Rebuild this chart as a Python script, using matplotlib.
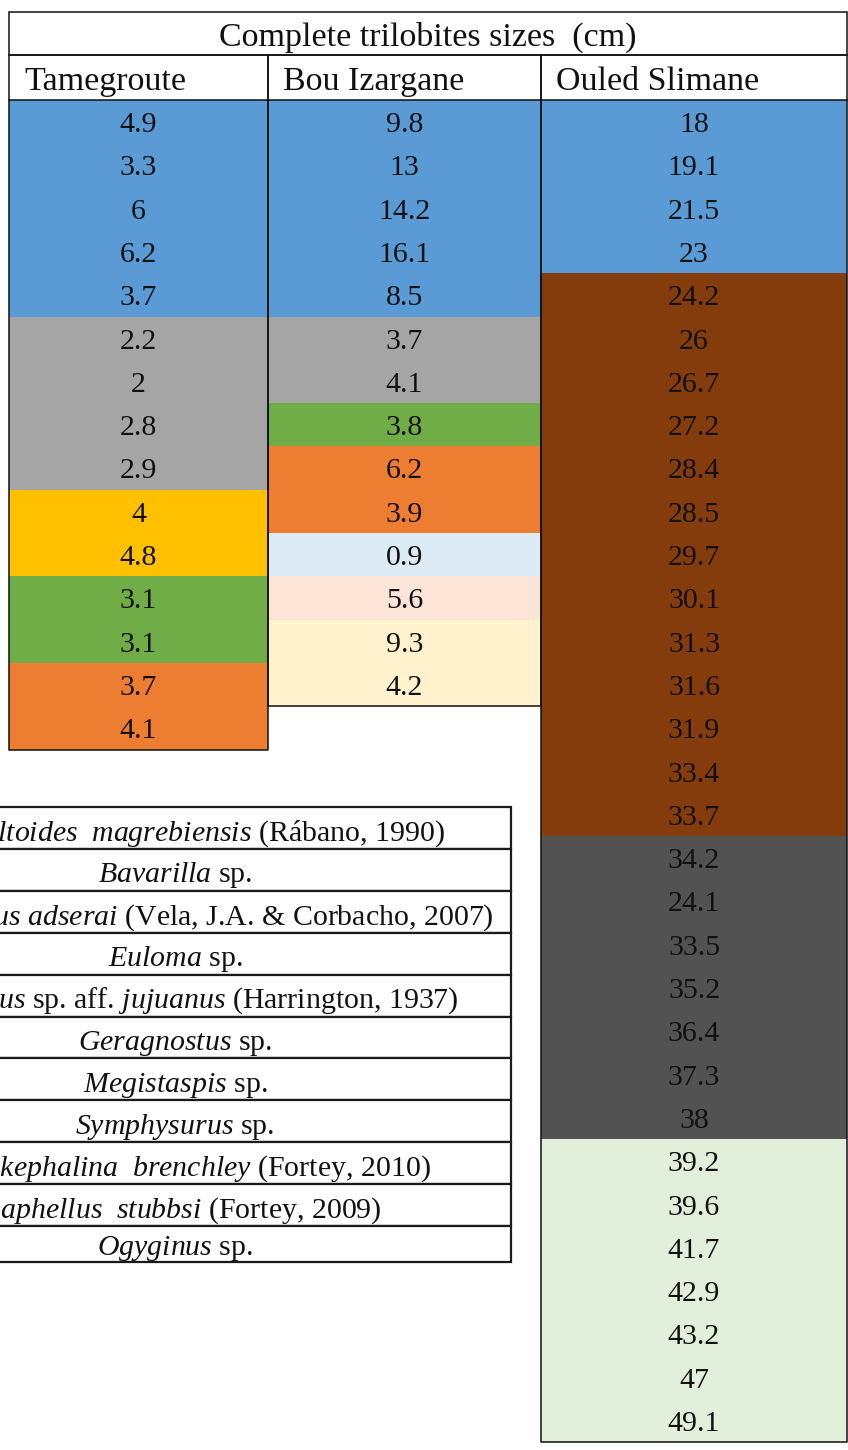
import matplotlib
matplotlib.use("Agg")
import matplotlib.pyplot as plt
from matplotlib.patches import Rectangle

plt.rcParams["mathtext.fontset"] = "custom"
plt.rcParams["mathtext.rm"] = "Liberation Serif"
plt.rcParams["mathtext.it"] = "Liberation Serif:italic"

# ---- data ----
title = "Complete trilobites sizes  (cm)"
sites = ["Tamegroute", "Bou Izargane", "Ouled Slimane"]

tamegroute = [4.9, 3.3, 6, 6.2, 3.7, 2.2, 2, 2.8, 2.9, 4, 4.8, 3.1, 3.1, 3.7, 4.1]
tamegroute_colors = ["#5B9BD5"] * 5 + ["#A5A5A5"] * 4 + ["#FFC000"] * 2 + ["#70AD47"] * 2 + ["#ED7D31"] * 2

bou_izargane = [9.8, 13, 14.2, 16.1, 8.5, 3.7, 4.1, 3.8, 6.2, 3.9, 0.9, 5.6, 9.3, 4.2]
bou_izargane_colors = (["#5B9BD5"] * 5 + ["#A5A5A5"] * 2 + ["#70AD47"] + ["#ED7D31"] * 2
                       + ["#DDEBF7"] + ["#FCE4D6"] + ["#FFF2CC"] * 2)

ouled_slimane = [18, 19.1, 21.5, 23, 24.2, 26, 26.7, 27.2, 28.4, 28.5, 29.7, 30.1, 31.3,
                 31.6, 31.9, 33.4, 33.7, 34.2, 24.1, 33.5, 35.2, 36.4, 37.3, 38,
                 39.2, 39.6, 41.7, 42.9, 43.2, 47, 49.1]
ouled_slimane_colors = ["#5B9BD5"] * 4 + ["#843C0C"] * 13 + ["#525252"] * 7 + ["#E2EFDA"] * 7

species = [
    r"$\mathit{Platypeltoides\ \ magrebiensis}$ (Rábano, 1990)",
    r"$\mathit{Bavarilla}$ sp.",
    r"$\mathit{Anacheirurus\ adserai}$ (Vela, J.A. & Corbacho, 2007)",
    r"$\mathit{Euloma}$ sp.",
    r"$\mathit{Asaphellus}$ sp. aff. $\mathit{jujuanus}$ (Harrington, 1937)",
    r"$\mathit{Geragnostus}$ sp.",
    r"$\mathit{Megistaspis}$ sp.",
    r"$\mathit{Symphysurus}$ sp.",
    r"$\mathit{Dikelokephalina\ \ brenchley}$ (Fortey, 2010)",
    r"$\mathit{Asaphellus\ \ stubbsi}$ (Fortey, 2009)",
    r"$\mathit{Ogyginus}$ sp.",
]

# ---- layout (pixels) ----
W, H = 848, 1450
col_x = [9, 268, 541, 847]
title_top, head_top, data_top = 12, 55, 100
row_h = 43.3
main_font = "Liberation Serif"

fig = plt.figure(figsize=(W / 100, H / 100), dpi=100)
ax = fig.add_axes([0, 0, 1, 1])
ax.set_xlim(0, W)
ax.set_ylim(H, 0)
ax.axis("off")

lw = 1.1
columns = [(tamegroute, tamegroute_colors), (bou_izargane, bou_izargane_colors),
           (ouled_slimane, ouled_slimane_colors)]

for c, (vals, cols) in enumerate(columns):
    x0, x1 = col_x[c], col_x[c + 1]
    for i, (v, fc) in enumerate(zip(vals, cols)):
        y = data_top + i * row_h
        ax.add_patch(Rectangle((x0, y), x1 - x0, row_h + 0.5, facecolor=fc, edgecolor="none"))
        ax.text((x0 + x1) / 2, y + 0.74 * row_h, f"{v:g}", ha="center", va="baseline",
                fontsize=21.5, family=main_font, color="#111111")
    bottom = data_top + len(vals) * row_h
    ax.plot([x0, x0, x1, x1], [data_top, bottom, bottom, data_top], color="#111111", lw=lw)
    # header cell
    ax.add_patch(Rectangle((x0, head_top), x1 - x0, data_top - head_top, facecolor="none",
                           edgecolor="#111111", lw=lw))
    ax.text(x0 + 15, head_top + 0.78 * (data_top - head_top), sites[c], ha="left",
            va="baseline", fontsize=24.5, family=main_font, color="#111111")

ax.add_patch(Rectangle((col_x[0], title_top), col_x[-1] - col_x[0], head_top - title_top,
                       facecolor="none", edgecolor="#111111", lw=lw))
ax.text((col_x[0] + col_x[-1]) / 2, title_top + 0.78 * (head_top - title_top), title,
        ha="center", va="baseline", fontsize=24.5, family=main_font, color="#111111")

# ---- species legend table (left part cut off by the page) ----
leg_left, leg_right = -20, 511
leg_top, leg_h = 807, 41.9
leg_bottom = 1262
for i, name in enumerate(species):
    y = leg_top + i * leg_h
    yb = min(y + leg_h, leg_bottom)
    ax.add_patch(Rectangle((leg_left, y), leg_right - leg_left, yb - y, facecolor="white",
                           edgecolor="#1a1a1a", lw=1.6))
    ax.text(175, y + 0.8 * (yb - y), name, ha="center", va="baseline", fontsize=21.5,
            family=main_font, color="#111111")

fig.savefig("out.png", dpi=100)
